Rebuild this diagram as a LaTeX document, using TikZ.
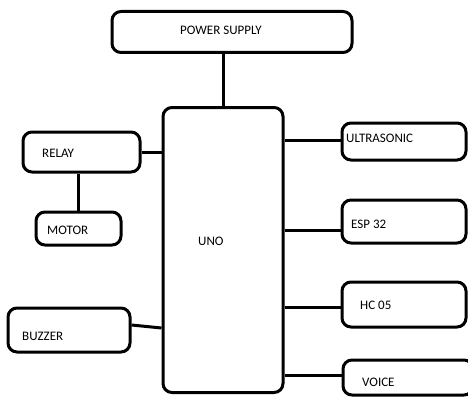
\documentclass[tikz,border=0pt]{standalone}
\usepackage{fontspec}
\setmainfont{Carlito}
\usepackage{tikz}

\tikzset{
  blk/.style={draw, line width=3pt, rounded corners=9pt, fill=white},
  lbl/.style={font=\fontsize{13}{15}\selectfont, anchor=west, inner sep=0pt},
  wire/.style={line width=3pt}
}

\begin{document}
\begin{tikzpicture}[x=1pt, y=-1pt]
            \useasboundingbox (0,0) rectangle (468,396);
            % boxes
            \node[blk, minimum width=240pt, minimum height=41pt] (power) at (232,32) {};
            \node[blk, minimum width=120pt, minimum height=285pt] (uno) at (223,250) {};
            \node[blk, minimum width=117pt, minimum height=40pt] (relay) at (81.5,152) {};
            \node[blk, minimum width=85pt, minimum height=33pt] (motor) at (78.5,228.5) {};
            \node[blk, minimum width=122pt, minimum height=44pt] (buzzer) at (69,330) {};
            \node[blk, minimum width=124pt, minimum height=37pt] (ultra) at (404,141.5) {};
            \node[blk, minimum width=124pt, minimum height=43pt] (esp) at (404,221.5) {};
            \node[blk, minimum width=124pt, minimum height=45pt] (hc) at (404,304.5) {};
            \node[blk, minimum width=130pt, minimum height=35pt] (voice) at (408,377.5) {};
            % texts
            \node[lbl] (powertxt) at (180,30) {POWER SUPPLY};
            \node[lbl] (unotxt) at (198,241) {UNO};
            \node[lbl] (relaytxt) at (42,153) {RELAY};
            \node[lbl] (motortxt) at (47,230) {MOTOR};
            \node[lbl] (buzzertxt) at (22,336) {BUZZER};
            \node[lbl] (ultratxt) at (346,138) {ULTRASONIC};
            \node[lbl] (esptxt) at (351,224) {ESP 32};
            \node[lbl] (hctxt) at (360,305) {HC 05};
            \node[lbl] (voicetxt) at (362,382) {VOICE};
            % wires
            \draw[wire] (uno.north) -- (uno.north |- power.south);
            \draw[wire] (relay.east) -- (relay.east -| uno.west);
            \draw[wire] (motor.north) -- (motor.north |- relay.south);
            \draw[wire] ([yshift=5pt]buzzer.east) -- ([yshift=2pt]buzzer.east -| uno.west);
            \draw[wire] ([yshift=1.5pt]ultra.west) -- ([yshift=1.5pt]ultra.west -| uno.east);
            \draw[wire] ([yshift=-8.5pt]esp.west) -- ([yshift=-8.5pt]esp.west -| uno.east);
            \draw[wire] ([yshift=-2.5pt]hc.west) -- ([yshift=-2.5pt]hc.west -| uno.east);
            \draw[wire] ([yshift=2.5pt]voice.west) -- ([yshift=2.5pt]voice.west -| uno.east);
        \end{tikzpicture}
\end{document}
